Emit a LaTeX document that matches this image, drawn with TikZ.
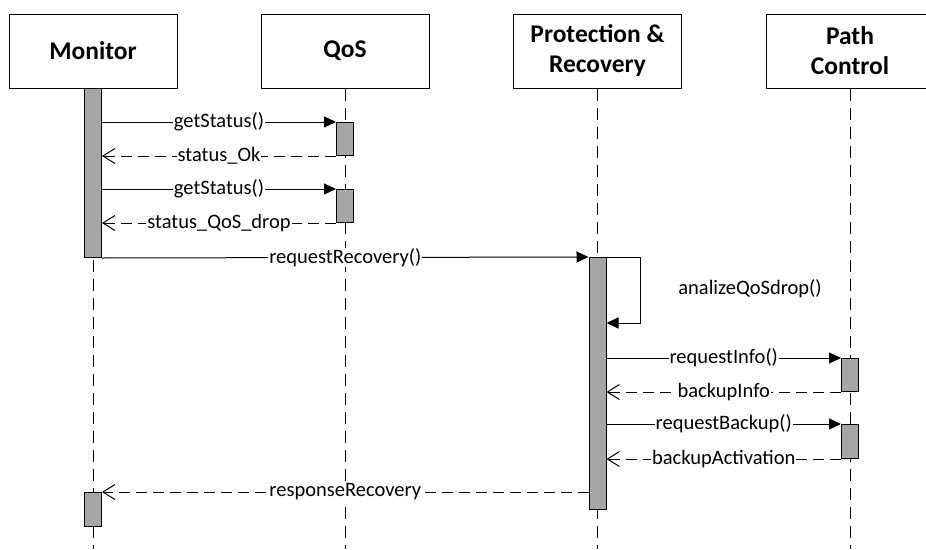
\documentclass[tikz,border=0pt]{standalone}
\usepackage{fontspec}
\setmainfont{Carlito}
\usepackage{xcolor}
\usetikzlibrary{arrows.meta}
\definecolor{bargray}{HTML}{A6A6A6}
\tikzstyle{lifebox} = [draw=black, fill=white, line width=1pt, rectangle,
minimum width=168pt, minimum height=74pt, align=center,
font=\fontsize{25.5}{30}\selectfont\bfseries]
\tikzstyle{actbar} = [draw=black, fill=bargray, line width=1pt, rectangle,
minimum width=17pt, inner sep=0pt, anchor=north]
\tikzstyle{lifeline} = [line width=1pt, dash pattern=on 12pt off 7pt]
\tikzstyle{call} = [line width=1pt, -{Triangle[length=12pt,width=11pt]}]
\tikzstyle{answer} = [line width=1pt, dash pattern=on 11pt off 6pt,
-{Straight Barb[length=12pt,width=15pt]}]
\tikzstyle{msg} = [fill=white, inner xsep=1pt, inner ysep=0pt,
font=\fontsize{20.5}{24}\selectfont]

\begin{document}
\begin{tikzpicture}[x=1pt, y=-1pt]
        \clip (0,0) rectangle (926,549);
        \coordinate (bottom) at (0,549);
        \node[lifebox] (mon) at (93,51) {Monitor};
        \node[lifebox] (qos) at (345,51) {QoS};
        \node[lifebox] (pr) at (597.5,51) {Protection \&\\Recovery};
        \node[lifebox] (pc) at (850,51) {Path\\Control};
        \foreach \n in {mon,qos,pr,pc}
            \draw[lifeline] (\n.south) -- (\n.south |- bottom);
        % activations
        \node[actbar, minimum height=169pt] (mon1) at (93,88) {};
        \node[actbar, minimum height=33pt] (q1) at (345,122) {};
        \node[actbar, minimum height=33pt] (q2) at (345,189) {};
        \node[actbar, minimum height=252pt] (pr1) at (597.5,257) {};
        \node[actbar, minimum height=33pt] (pc1) at (850,358) {};
        \node[actbar, minimum height=34pt] (pc2) at (850,424) {};
        \node[actbar, minimum height=34pt] (mon2) at (93,492) {};
        % messages
        \draw[call] (mon1.east |- q1.north) -- node[msg] {getStatus()} (q1.north west);
        \draw[answer] (q1.south west) -- node[msg] {status\_Ok} (mon1.east |- q1.south);
        \draw[call] (mon1.east |- q2.north) -- node[msg] {getStatus()} (q2.north west);
        \draw[answer] (q2.south west) -- node[msg] {status\_QoS\_drop} (mon1.east |- q2.south);
        \draw[call] (mon1.south east) -- node[msg] {requestRecovery()} (pr1.north west);
        \draw[call] (pr1.north east) -- ++(34,0) |- ([yshift=-66pt]pr1.north east);
        \node[msg] (analize) at (750,289) {analizeQoSdrop()};
        \draw[call] (pr1.east |- pc1.north) -- node[msg] {requestInfo()} (pc1.north west);
        \draw[answer] (pc1.south west) -- node[msg] {backupInfo} (pr1.east |- pc1.south);
        \draw[call] (pr1.east |- pc2.north) -- node[msg] {requestBackup()} (pc2.north west);
        \draw[answer] (pc2.south west) -- node[msg] {backupActivation} (pr1.east |- pc2.south);
        \draw[answer] (pr1.west |- mon2.north) -- node[msg] {responseRecovery} (mon2.north east);
    \end{tikzpicture}
\end{document}
